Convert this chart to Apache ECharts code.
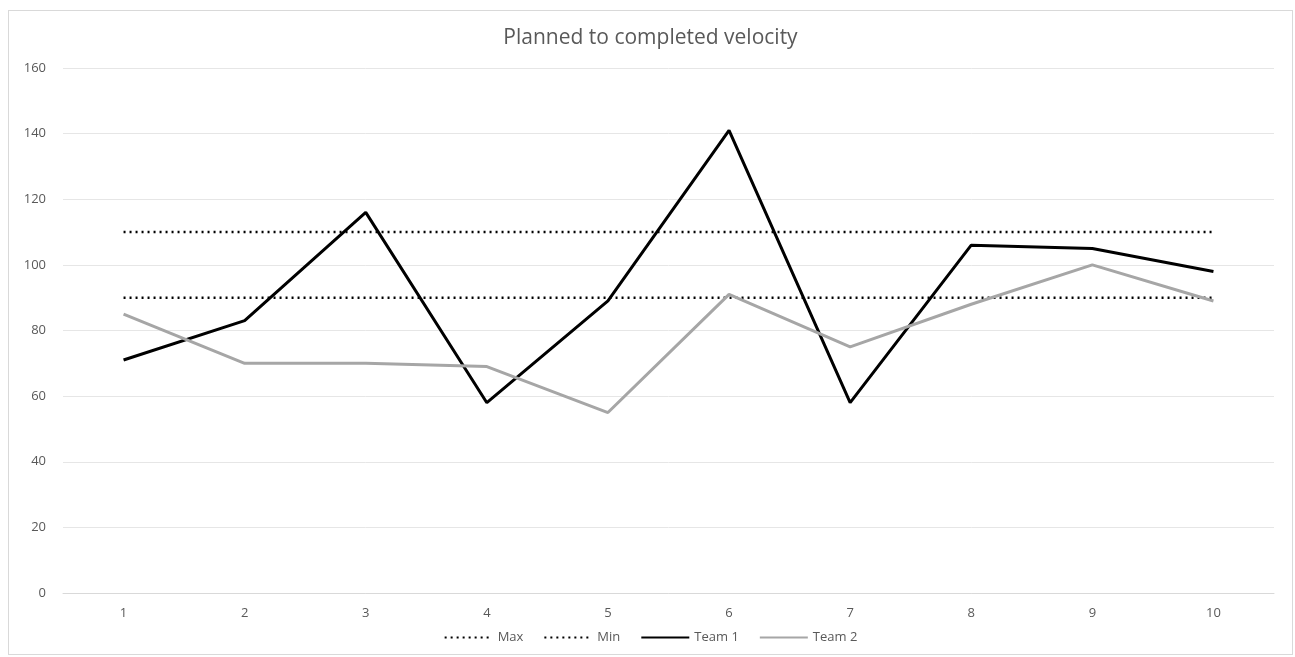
<!DOCTYPE html>
<html>
<head>
<meta charset="utf-8">
<script src="https://cdn.jsdelivr.net/npm/echarts@6/dist/echarts.min.js"></script>
<style>
  html, body { margin: 0; padding: 0; background: #fff; }
  #main { position: absolute; left: 8px; top: 10px; width: 1285px; height: 645px; border: 1px solid #d9d9d9; box-sizing: border-box; }
</style>
</head>
<body>
<div id="main"></div>
<script>
var sprints = ['1', '2', '3', '4', '5', '6', '7', '8', '9', '10'];
var maxLine = [110, 110, 110, 110, 110, 110, 110, 110, 110, 110];
var minLine = [90, 90, 90, 90, 90, 90, 90, 90, 90, 90];
var team1 = [71, 83, 116, 58, 89, 141, 58, 106, 105, 98];
var team2 = [85, 70, 70, 69, 55, 91, 75, 88, 100, 89];

var myChart = echarts.init(document.getElementById('main'));

var textColor = '#595959';
var font = '"Open Sans", Inter, sans-serif';

function lineSeries(name, data, color, width, type) {
    return {
        name: name,
        type: 'line',
        data: data,
        symbol: 'none',
        smooth: false,
        lineStyle: { color: color, width: width, type: type },
        itemStyle: { color: color },
        emphasis: { disabled: true }
    };
}

myChart.setOption({
    animation: false,
    title: {
        text: 'Planned to completed velocity',
        left: 'center',
        top: 12,
        textStyle: { color: textColor, fontSize: 21, fontWeight: 'normal', fontFamily: font }
    },
    legend: {
        bottom: 5,
        left: 'center',
        itemWidth: 48,
        itemHeight: 10,
        itemGap: 20,
        itemStyle: { opacity: 0 },
        textStyle: { color: textColor, fontSize: 13, fontFamily: font },
        data: ['Max', 'Min', 'Team 1', 'Team 2']
    },
    grid: {
        left: 54,
        right: 18,
        top: 57,
        bottom: 61
    },
    xAxis: {
        type: 'category',
        data: sprints,
        boundaryGap: true,
        axisLine: { lineStyle: { color: '#d9d9d9' } },
        axisTick: { show: false },
        axisLabel: { color: textColor, fontSize: 13, fontFamily: font, margin: 14 }
    },
    yAxis: {
        type: 'value',
        min: 0,
        max: 160,
        interval: 20,
        axisLine: { show: false },
        axisTick: { show: false },
        axisLabel: { color: textColor, fontSize: 13, fontFamily: font, margin: 17 },
        splitLine: { lineStyle: { color: '#e6e6e6', width: 1 } }
    },
    series: [
        lineSeries('Max', maxLine, '#000000', 2.5, [2, 4]),
        lineSeries('Min', minLine, '#000000', 2.5, [2, 4]),
        lineSeries('Team 1', team1, '#000000', 3, 'solid'),
        lineSeries('Team 2', team2, '#a6a6a6', 3, 'solid')
    ]
});
</script>
</body>
</html>
